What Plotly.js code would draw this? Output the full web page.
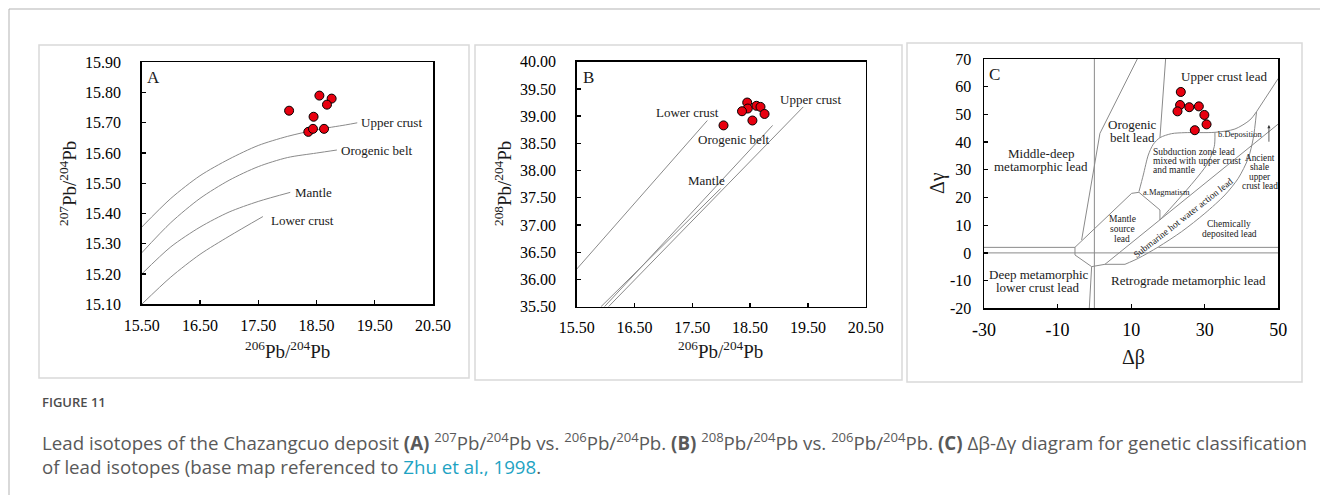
<!DOCTYPE html>
<html>
<head>
<meta charset="utf-8">
<script src="https://cdn.plot.ly/plotly-3.0.1.min.js"></script>
<style>html,body{margin:0;padding:0;background:#fff;}#chart{width:1320px;height:495px;}</style>
</head>
<body>
<div id="chart"></div>
<script>
// ---------- Data ----------
// Panel A: 207Pb/204Pb vs 206Pb/204Pb
const aX = [18.03, 18.55, 18.76, 18.68, 18.45, 18.36, 18.44, 18.63];
const aY = [15.74, 15.79, 15.78, 15.76, 15.72, 15.67, 15.68, 15.68];
const aUpperX = [15.5, 16.0, 16.5, 17.0, 17.5, 18.0, 18.5, 19.0, 19.2];
const aUpperY = [15.355, 15.45, 15.525, 15.58, 15.625, 15.655, 15.677, 15.693, 15.70];
const aOroX = [15.5, 16.0, 16.5, 17.0, 17.5, 18.0, 18.5, 18.85];
const aOroY = [15.27, 15.37, 15.45, 15.51, 15.555, 15.585, 15.60, 15.61];
const aMantleX = [15.5, 16.0, 16.5, 17.0, 17.5, 18.05];
const aMantleY = [15.20, 15.29, 15.355, 15.405, 15.44, 15.47];
const aLowerX = [15.5, 16.0, 16.5, 17.0, 17.58];
const aLowerY = [15.10, 15.19, 15.265, 15.325, 15.39];

// Panel B: 208Pb/204Pb vs 206Pb/204Pb
const bX = [18.04, 18.45, 18.46, 18.36, 18.61, 18.68, 18.75, 18.54];
const bY = [38.83, 39.25, 39.14, 39.09, 39.19, 39.17, 39.04, 38.92];
const bLowerX = [15.5, 17.76];
const bLowerY = [36.19, 38.92];
const bMantleX = [15.92, 17.99];
const bMantleY = [35.5, 37.67];
const bOroX = [15.98, 18.89];
const bOroY = [35.5, 38.83];
const bUpperX = [16.05, 19.42];
const bUpperY = [35.5, 39.17];

// Panel C: delta-beta vs delta-gamma
const cX = [23.5, 23.3, 22.6, 25.8, 28.4, 29.9, 30.5, 27.3];
const cY = [58.1, 53.4, 51.1, 52.6, 52.9, 49.8, 46.4, 44.3];
const cXTicks = [-30, -10, 10, 30, 50];
const cXTickText = ['-30', '-10', '10', '30', '50'];
const cYTicks = [-20, -10, 0, 10, 20, 30, 40, 50, 60, 70];
const cYTickText = ['-20', '-10', '0', '10', '20', '30', '40', '50', '60', '70'];
const cVertX = [0, 0], cVertY = [-20, 70];
const cH0X = [-30, 50], cH0Y = [0, 0];
const cH2LX = [-30, -5.27], cH2LY = [2, 2];
const cH2RX = [17.4, 50], cH2RY = [2, 2];
const cOroLX = [-3.46, 1.52, 11.67], cOroLY = [4.67, 43.17, 70];
const cOroRX = [19.37, 17.83], cOroRY = [70, 41.6];
const cUpperX = [12.12, 13.30, 14.66, 16.01, 17.83, 20.99, 24.62, 32.77, 38.21, 42.28, 44.09];
const cUpperY = [22.11, 28.13, 35.35, 39.20, 41.6, 43.05, 43.41, 43.53, 44.73, 47.98, 50.99];
const cUpperRX = [44.09, 50], cUpperRY = [50.99, 63.0];
const cSubRX = [32.77, 32.59, 30.51, 17.83], cSubRY = [43.53, 38.36, 31.74, 11.89];
const cOctX = [17.83, 17.83, 12.12, 10.13, -5.27, -5.27, -0.74, 2.88, 8.32];
const cOctY = [11.89, 15.5, 21.87, 21.5, 2.02, -0.75, -4.96, -4.12, -4.12];
const cLowerX = [-0.74, -1.38], cLowerY = [-4.96, -20];
const cSX = [2.88, 50], cSY = [-4.12, 46.54];
const cKX = [8.32, 11.94, 17.37, 23.71, 30.05, 35.49, 39.11, 41.83, 43.19, 44.09];
const cKY = [-4.12, -1.95, 2.14, 7.67, 14.29, 20.91, 26.93, 34.15, 41.36, 50.99];
const cArrowX = [47.45, 47.45], cArrowY = [39.6, 46.2];

// ---------- Helpers ----------
const W = 1320, H = 495;
const px = X => X / W;
const py = Y => 1 - Y / H;
const SERIF = 'Liberation Serif, Times New Roman, serif';
const LINE = {color: '#8a8a8a', width: 1};

function ln(x, y, xa, ya, spline) {
  return {x: x, y: y, xaxis: xa, yaxis: ya, mode: 'lines', type: 'scatter',
    line: Object.assign({}, LINE, spline ? {shape: 'spline', smoothing: 0.8} : {}),
    hoverinfo: 'skip', showlegend: false};
}
function pts(x, y, xa, ya) {
  return {x: x, y: y, xaxis: xa, yaxis: ya, mode: 'markers', type: 'scatter',
    marker: {color: '#e8000f', size: 9, line: {color: '#000', width: 1}},
    hoverinfo: 'skip', showlegend: false};
}
function axis(extra) {
  return Object.assign({
    showline: true, mirror: true, linecolor: '#000', linewidth: 1.5,
    ticks: 'inside', ticklen: 4, tickwidth: 1.3, tickcolor: '#000',
    showgrid: false, zeroline: false, fixedrange: true,
    tickfont: {family: SERIF, size: 16, color: '#000'}
  }, extra);
}
const anns = [];
function lab(text, x, y, xr, yr, size, anchor, extra) {
  anns.push(Object.assign({text: text, x: x, y: y, xref: xr, yref: yr, showarrow: false,
    xanchor: anchor || 'center', yanchor: 'middle',
    font: {family: SERIF, size: size, color: '#1a1a1a'}}, extra || {}));
}
function multi(lines, x, y, xr, yr, size, lh, anchor) {
  const n = lines.length;
  lines.forEach((t, i) => lab(t, x, y, xr, yr, size, anchor, {yshift: ((n - 1) / 2 - i) * lh}));
}

// ---------- Traces ----------
const traces = [
  ln(aUpperX, aUpperY, 'x', 'y', true), ln(aOroX, aOroY, 'x', 'y', true),
  ln(aMantleX, aMantleY, 'x', 'y', true), ln(aLowerX, aLowerY, 'x', 'y', true),
  pts(aX, aY, 'x', 'y'),
  ln(bLowerX, bLowerY, 'x2', 'y2'), ln(bMantleX, bMantleY, 'x2', 'y2'),
  ln(bOroX, bOroY, 'x2', 'y2'), ln(bUpperX, bUpperY, 'x2', 'y2'),
  pts(bX, bY, 'x2', 'y2'),
  ln(cVertX, cVertY, 'x3', 'y3'), ln(cH0X, cH0Y, 'x3', 'y3'),
  ln(cH2LX, cH2LY, 'x3', 'y3'), ln(cH2RX, cH2RY, 'x3', 'y3'),
  ln(cOroLX, cOroLY, 'x3', 'y3'), ln(cOroRX, cOroRY, 'x3', 'y3'),
  ln(cUpperX, cUpperY, 'x3', 'y3', true), ln(cUpperRX, cUpperRY, 'x3', 'y3'),
  ln(cSubRX, cSubRY, 'x3', 'y3', true), ln(cOctX, cOctY, 'x3', 'y3'),
  ln(cLowerX, cLowerY, 'x3', 'y3'), ln(cSX, cSY, 'x3', 'y3'),
  ln(cKX, cKY, 'x3', 'y3', true),
  pts(cX, cY, 'x3', 'y3')
];

// ---------- Labels ----------
// Panel A
lab('A', px(145), py(66), 'paper', 'paper', 17, 'left', {yanchor: 'top'});
lab('Upper crust', 19.23, 15.70, 'x', 'y', 13, 'left');
lab('Orogenic belt', 18.88, 15.61, 'x', 'y', 13, 'left');
lab('Mantle', 18.10, 15.47, 'x', 'y', 13, 'left');
lab('Lower crust', 17.68, 15.377, 'x', 'y', 13, 'left');
lab('<sup>206</sup>Pb/<sup>204</sup>Pb', px(287), py(350), 'paper', 'paper', 19);
lab('<sup>207</sup>Pb/<sup>204</sup>Pb', px(68), py(184), 'paper', 'paper', 19, 'center', {textangle: -90});
// Panel B
lab('B', px(581), py(66), 'paper', 'paper', 17, 'left', {yanchor: 'top'});
lab('Upper crust', 19.54, 39.31, 'x2', 'y2', 13);
lab('Lower crust', 17.41, 39.06, 'x2', 'y2', 13);
lab('Orogenic belt', 18.22, 38.57, 'x2', 'y2', 13);
lab('Mantle', 17.75, 37.81, 'x2', 'y2', 13);
lab('<sup>206</sup>Pb/<sup>204</sup>Pb', px(720), py(350), 'paper', 'paper', 19);
lab('<sup>208</sup>Pb/<sup>204</sup>Pb', px(503), py(184), 'paper', 'paper', 19, 'center', {textangle: -90});
// Panel C
lab('C', px(987), py(63), 'paper', 'paper', 17, 'left', {yanchor: 'top'});
lab('Upper crust lead', 35.3, 63.6, 'x3', 'y3', 13);
multi(['Orogenic', 'belt lead'], 10.4, 44.0, 'x3', 'y3', 13, 12.7);
multi(['Middle-deep', 'metamorphic lead'], -14.5, 33.5, 'x3', 'y3', 13, 13.3);
multi(['Subduction zone lead', 'mixed with upper crust', 'and mantle'], 15.38, 33.2, 'x3', 'y3', 9.5, 9.3, 'left');
lab('a.Magmatism', 12.66, 22.1, 'x3', 'y3', 8.5, 'left');
lab('b.Deposition', 32.95, 42.8, 'x3', 'y3', 8.5, 'left');
multi(['Ancient', 'shale', 'upper', 'crust lead'], 45.0, 29.2, 'x3', 'y3', 9.3, 9.5);
multi(['Mantle', 'source', 'lead'], 7.6, 8.6, 'x3', 'y3', 9.5, 9.7);
lab('Submarine hot water action lead', 24.2, 12.5, 'x3', 'y3', 9.5, 'center', {textangle: -38});
multi(['Chemically', 'deposited lead'], 36.7, 8.6, 'x3', 'y3', 9.5, 9.7);
multi(['Deep metamorphic', 'lower crust lead'], -15.2, -10.1, 'x3', 'y3', 13, 12.7);
lab('Retrograde metamorphic lead', 25.7, -10.0, 'x3', 'y3', 13);
lab('Δβ', px(1133), py(357), 'paper', 'paper', 20);
lab('Δγ', px(938), py(183), 'paper', 'paper', 20, 'center', {textangle: -90});
anns.push({x: cArrowX[1], y: cArrowY[1], ax: cArrowX[0], ay: cArrowY[0], xref: 'x3', yref: 'y3',
  axref: 'x3', ayref: 'y3', showarrow: true, arrowhead: 2, arrowsize: 0.8, arrowwidth: 0.8,
  arrowcolor: '#333', text: ''});

// Caption
const CAP = 'Open Sans, Noto Sans, sans-serif';
anns.push({text: 'FIGURE 11', x: px(40), y: py(402), xref: 'paper', yref: 'paper', showarrow: false,
  xanchor: 'left', yanchor: 'middle', font: {family: CAP, size: 13, color: '#4d4d4d', weight: 600}});
anns.push({text: 'Lead isotopes of the Chazangcuo deposit <b>(A)</b> <sup>207</sup>Pb/<sup>204</sup>Pb vs. <sup>206</sup>Pb/<sup>204</sup>Pb. <b>(B)</b> <sup>208</sup>Pb/<sup>204</sup>Pb vs. <sup>206</sup>Pb/<sup>204</sup>Pb. <b>(C)</b> Δβ-Δγ diagram for genetic classification',
  x: px(40), y: py(441), xref: 'paper', yref: 'paper', showarrow: false,
  xanchor: 'left', yanchor: 'middle', font: {family: CAP, size: 18.7, color: '#595959'}});
anns.push({text: 'of lead isotopes (base map referenced to <span style="color:#1ea3c3">Zhu et al., 1998</span>.',
  x: px(40), y: py(466), xref: 'paper', yref: 'paper', showarrow: false,
  xanchor: 'left', yanchor: 'middle', font: {family: CAP, size: 18.7, color: '#595959'}});

// ---------- Shapes (frames) ----------
function rect(x0, y0, x1, y1) {
  return {type: 'rect', xref: 'paper', yref: 'paper', x0: px(x0), x1: px(x1), y0: py(y1), y1: py(y0),
    line: {color: '#d9d9d9', width: 1.5}, fillcolor: 'rgba(0,0,0,0)'};
}
const shapes = [
  {type: 'line', xref: 'paper', yref: 'paper', x0: px(9), x1: 1, y0: py(9), y1: py(9), line: {color: '#b3b3b3', width: 1}},
  {type: 'line', xref: 'paper', yref: 'paper', x0: px(9), x1: px(9), y0: py(9), y1: 0, line: {color: '#b3b3b3', width: 1}},
  rect(39, 45, 469, 378), rect(475, 45, 902, 380), rect(907, 43, 1302, 382)
];

// ---------- Layout ----------
const layout = {
  width: W, height: H, margin: {l: 0, r: 0, t: 0, b: 0},
  paper_bgcolor: '#fff', plot_bgcolor: '#fff', showlegend: false,
  xaxis: axis({domain: [141.7 / W, 433 / W], range: [15.5, 20.5], tick0: 15.5, dtick: 1, tickformat: '.2f', anchor: 'y', ticklabelstandoff: 6}),
  yaxis: axis({domain: [py(304.3), py(62.3)], range: [15.1, 15.9], dtick: 0.1, tickformat: '.2f', anchor: 'x', ticklabelstandoff: 16}),
  xaxis2: axis({domain: [576.7 / W, 865.7 / W], range: [15.5, 20.5], tick0: 15.5, dtick: 1, tickformat: '.2f', anchor: 'y2', ticklabelstandoff: 6}),
  yaxis2: axis({domain: [py(306.7), py(61.7)], range: [35.5, 40], dtick: 0.5, tickformat: '.2f', anchor: 'x2', ticklabelstandoff: 16}),
  xaxis3: axis({domain: [984 / W, 1278.3 / W], range: [-30, 50], tickmode: 'array', tickvals: cXTicks, ticktext: cXTickText,
    anchor: 'y3', ticklabelstandoff: 5, tickfont: {family: SERIF, size: 18, color: '#000'}}),
  yaxis3: axis({domain: [py(308.3), py(59)], range: [-20, 70], tickmode: 'array', tickvals: cYTicks, ticktext: cYTickText,
    anchor: 'x3', ticklabelstandoff: 8}),
  annotations: anns, shapes: shapes
};

Plotly.newPlot('chart', traces, layout, {displayModeBar: false, staticPlot: true});
</script>
</body>
</html>
